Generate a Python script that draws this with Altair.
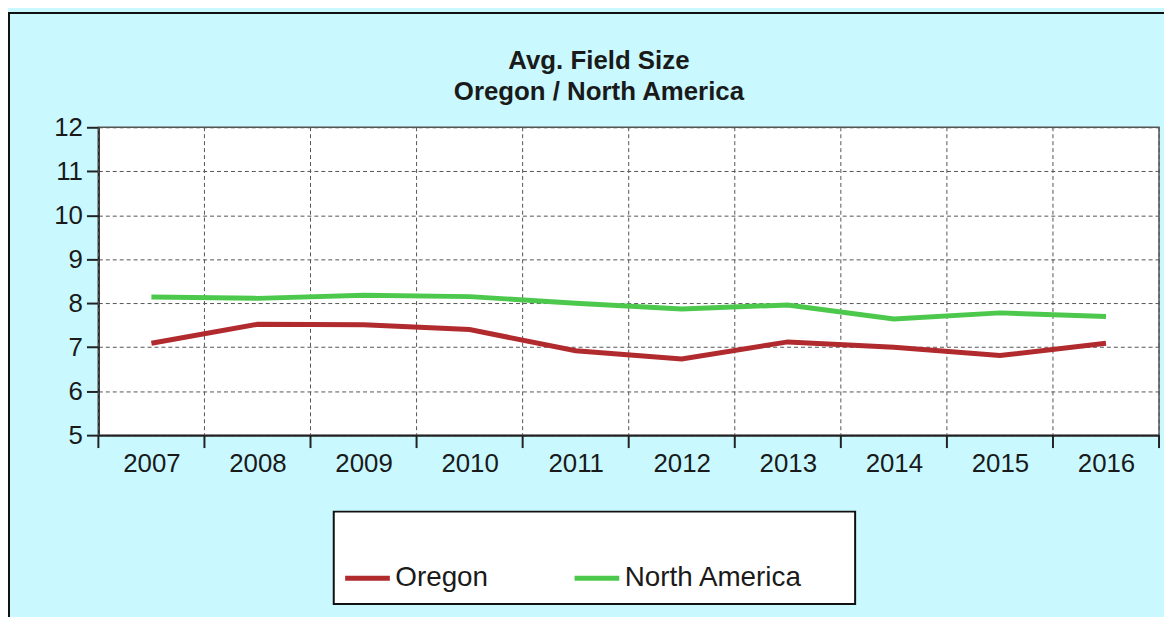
import altair as alt
import pandas as pd

# ---- data ----
years = [2007, 2008, 2009, 2010, 2011, 2012, 2013, 2014, 2015, 2016]
oregon = [7.09, 7.52, 7.51, 7.40, 6.92, 6.73, 7.12, 7.00, 6.81, 7.09]
north_america = [8.14, 8.11, 8.18, 8.15, 8.00, 7.87, 7.96, 7.64, 7.78, 7.70]
series_names = ["Oregon", "North America"]
series_colors = ["#B02A2E", "#4CC94C"]
y_ticks = [5, 6, 7, 8, 9, 10, 11, 12]
title_lines = ["Avg. Field Size", "Oregon / North America"]

rows = []
for name, vals in zip(series_names, [oregon, north_america]):
    for yr, v in zip(years, vals):
        rows.append({"year": yr, "series": name, "value": v})
df = pd.DataFrame(rows)

# category boundaries (ticks / vertical grid between the years)
boundaries = [y - 0.5 for y in years] + [years[-1] + 0.5]
bdf = pd.DataFrame({"year": boundaries})

W, H = 1068, 310
FONT = "Liberation Sans"
TXT = "#1a1a1a"

x_scale = alt.Scale(domain=[years[0] - 0.5, years[-1] + 0.5], nice=False, zero=False)
x_axis = alt.Axis(
    values=years,
    format="d",
    labelOverlap=False,
    labelFlush=False,
    tickOpacity=0,
    tickSize=13,
    labelPadding=3,
    grid=False,
    title=None,
)
x_enc = alt.X("year:Q", scale=x_scale, axis=x_axis)

one = pd.DataFrame({"k": [0]})

frame = alt.Chart(one).mark_rect(
    fillOpacity=0, stroke="#111111", strokeWidth=2
).encode(
    x=alt.value(-90), x2=alt.value(W + 200),
    y=alt.value(-115), y2=alt.value(H + 400)
)

legend_box = alt.Chart(one).mark_rect(
    fill="white", stroke="#111111", strokeWidth=2
).encode(
    x=alt.value(237), x2=alt.value(762),
    y=alt.value(387), y2=alt.value(480)
)

vgrid = alt.Chart(bdf).mark_rule(
    color="#555555", strokeWidth=1, strokeDash=[4, 3]
).encode(x=x_enc)

xticks = alt.Chart(bdf).mark_rule(
    color="#222222", strokeWidth=2
).encode(x=x_enc, y=alt.value(H), y2=alt.value(H + 13))

lines = alt.Chart(df).mark_line(strokeWidth=5).encode(
    x=x_enc,
    y=alt.Y(
        "value:Q",
        scale=alt.Scale(domain=[5, 12], nice=False, zero=False),
        axis=alt.Axis(values=y_ticks, tickSize=12, labelPadding=4, grid=True, title=None),
    ),
    color=alt.Color(
        "series:N",
        scale=alt.Scale(domain=series_names, range=series_colors),
        legend=alt.Legend(
            orient="none",
            legendX=246,
            legendY=429,
            direction="horizontal",
            title=None,
            symbolType="stroke",
            symbolSize=2025,
            symbolStrokeWidth=5,
            labelFontSize=28,
            labelFont=FONT,
            labelColor=TXT,
            labelOffset=3,
            labelLimit=400,
            columnPadding=76,
            padding=0,
        ),
    ),
)

chart = alt.layer(frame, legend_box, vgrid, xticks, lines).properties(
    width=W,
    height=H,
    autosize=alt.AutoSizeParams(type="none"),
    padding={"left": 91, "top": 118, "right": 5, "bottom": 181},
    background="#C9F9FF",
    title=alt.TitleParams(
        title_lines,
        font=FONT,
        fontSize=26,
        fontWeight="bold",
        color=TXT,
        anchor="middle",
        frame="group",
        dx=-30,
        dy=120,
        offset=0,
        lineHeight=32,
        baseline="bottom",
    ),
).configure_view(
    fill="white", stroke="#555555", strokeWidth=1.5
).configure_axis(
    labelFont=FONT,
    labelFontSize=26,
    labelColor=TXT,
    domainColor="#222222",
    domainWidth=2,
    tickColor="#222222",
    tickWidth=2,
    gridColor="#555555",
    gridDash=[4, 3],
    gridWidth=1,
)

chart.save("out.html", embed_options={"renderer": "svg", "actions": False})
